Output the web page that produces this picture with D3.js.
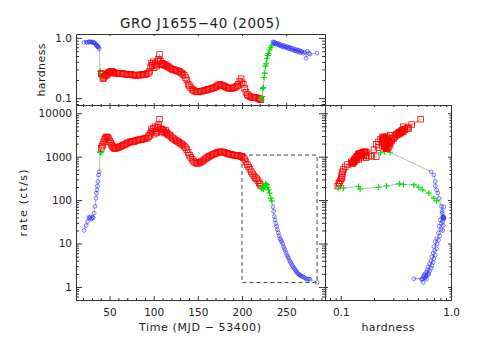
<!DOCTYPE html>
<html>
<head>
<meta charset="utf-8">
<script src="https://cdn.jsdelivr.net/npm/d3@7"></script>
<style>
body { margin: 0; background: #fff; }
text { font-family: "DejaVu Sans", sans-serif; fill: #222; }
</style>
</head>
<body>
<div id="chart"></div>
<script>
var width = 501,
    height = 354;

// time in MJD - 53400
var mjd = [
  21.0, 23.5, 25.0, 26.5, 27.5, 28.5, 29.5, 30.5, 31.5, 32.5, 33.5, 34.5, 35.0, 35.7, 36.3, 36.9, 37.5, 38.3,
  39.3, 39.8, 40.3,
  40.6, 41.5, 42.5, 43.5, 44.5, 45.5, 46.5, 47.5, 48.5, 49.5,
  50.5, 51.5, 52.5, 53.5, 54.5, 55.5, 56.5, 58.0, 59.5, 61.0,
  62.5, 64.0, 65.5, 67.0, 68.5, 70.0, 71.5, 73.0, 74.5, 76.0,
  77.5, 79.0, 80.5, 82.0, 83.5, 85.0, 86.5, 88.0, 89.5, 91.0,
  92.5, 94.0, 95.5, 96.5, 97.5, 98.5, 99.5, 100.5, 101.5, 102.5,
  103.5, 104.5, 105.5, 106.6, 107.5, 108.5, 109.5, 110.5, 111.5, 112.5,
  113.5, 114.5, 115.5, 116.5, 118.0, 119.5, 121.0, 122.5, 124.0, 125.5,
  127.0, 128.5, 130.0, 131.5, 133.0, 134.5, 136.0, 137.5, 139.0, 140.5,
  142.0, 143.5, 145.0, 146.5, 148.0, 149.5, 151.0, 152.5, 154.0, 155.5,
  157.0, 158.5, 160.0, 161.5, 163.0, 164.5, 166.0, 167.5, 169.0, 170.5,
  172.0, 173.5, 175.0, 176.5, 178.0, 179.5, 181.0, 182.5, 184.0, 185.5,
  187.0, 188.5, 190.0, 191.5, 193.0, 194.5, 196.0, 197.5, 199.0, 200.0,
  201.5, 203.0, 204.5, 206.0, 207.5, 209.0, 210.5, 212.0, 213.5, 215.0,
  216.5, 218.0, 219.5, 220.5, 221.4,
  222.0, 222.8, 223.5, 224.2, 225.0, 225.8, 226.5, 227.3, 228.2, 229.0, 230.0, 231.2, 232.5, 233.7,
  235.0, 235.8, 236.6, 237.4, 238.3, 239.3, 240.2, 241.2, 242.2, 243.1,
  244.0, 245.0, 246.0, 247.0, 248.0, 249.0, 250.0, 251.0, 252.0, 253.0,
  254.0, 255.0, 256.0, 257.0, 258.0, 259.0, 260.0, 261.0, 262.0, 263.0,
  264.0, 265.0, 266.0, 267.0, 268.0, 269.5, 271.0, 272.5, 274.0, 275.5,
  277.0, 285.0
];

// count rate (ct/s)
var rate = [
  20, 26, 32, 40, 38, 41, 37, 40, 39, 50, 72, 110, 145, 172, 210, 267, 380, 450,
  1260, 1300, 1235,
  1560, 1750, 1920, 2200, 2500, 2700, 2880, 2800, 2700, 2450,
  2250, 2050, 1850, 1720, 1620, 1560, 1540, 1580, 1620, 1680,
  1720, 1780, 1850, 1900, 1960, 2050, 2100, 2200, 2180, 2250,
  2220, 2300, 2400, 2380, 2450, 2500, 2480, 2550, 2620, 2700,
  2650, 2900, 3100, 3500, 4200, 3800, 4500, 3300, 4900, 3900,
  3600, 4800, 5500, 7300, 4400, 3700, 4300, 3800, 4100, 3500,
  4000, 3600, 3400, 3200, 3100, 2900, 2700, 2600, 2450, 2350,
  2250, 2150, 2050, 1950, 1850, 1750, 1620, 1450, 1250, 1080,
  960, 870, 790, 740, 710, 700, 715, 740, 770, 800,
  850, 890, 940, 980, 1020, 1060, 1100, 1130, 1170, 1200,
  1240, 1270, 1290, 1300, 1280, 1260, 1230, 1200, 1170, 1150,
  1130, 1110, 1090, 1080, 1060, 1050, 1070, 1030, 1000, 1020,
  950, 860, 760, 660, 580, 510, 450, 400, 360, 330,
  310, 280, 250, 235, 210,
  188, 190, 205, 180, 198, 212, 237, 230, 224, 198, 172, 145, 111, 96,
  70, 55, 42, 35, 29, 25, 21, 17.5, 15, 13,
  12, 11, 9.8, 8.5, 7.6, 6.9, 6.0, 5.4, 4.9, 4.5,
  4.0, 3.7, 3.4, 3.1, 2.9, 2.7, 2.5, 2.35, 2.2, 2.05,
  2.0, 1.9, 1.85, 1.8, 1.75, 1.7, 1.62, 1.55, 1.5, 1.52,
  1.5, 1.27
];

// hardness ratio
var hard = [
  0.84, 0.85, 0.84, 0.86, 0.86, 0.85, 0.86, 0.84, 0.85, 0.83, 0.82, 0.78, 0.76, 0.74, 0.72, 0.72, 0.70, 0.66,
  0.28, 0.25, 0.23,
  0.26, 0.25, 0.21, 0.22, 0.23, 0.24, 0.24, 0.25, 0.26, 0.27,
  0.27, 0.28, 0.28, 0.27, 0.27, 0.26, 0.26, 0.26, 0.26, 0.255,
  0.26, 0.255, 0.255, 0.25, 0.25, 0.25, 0.245, 0.245, 0.25, 0.245,
  0.24, 0.24, 0.24, 0.24, 0.245, 0.24, 0.245, 0.25, 0.245, 0.25,
  0.255, 0.26, 0.28, 0.33, 0.38, 0.35, 0.40, 0.32, 0.37, 0.36,
  0.34, 0.41, 0.44, 0.53, 0.41, 0.36, 0.38, 0.37, 0.36, 0.35,
  0.36, 0.34, 0.34, 0.33, 0.32, 0.31, 0.30, 0.30, 0.29, 0.29,
  0.28, 0.28, 0.27, 0.26, 0.25, 0.24, 0.22, 0.20, 0.17, 0.16,
  0.15, 0.14, 0.135, 0.13, 0.128, 0.127, 0.128, 0.13, 0.13, 0.132,
  0.133, 0.135, 0.137, 0.14, 0.14, 0.143, 0.145, 0.148, 0.15, 0.155,
  0.16, 0.165, 0.17, 0.165, 0.16, 0.16, 0.155, 0.15, 0.148, 0.146,
  0.145, 0.145, 0.148, 0.15, 0.155, 0.16, 0.17, 0.19, 0.21, 0.18,
  0.17, 0.145, 0.125, 0.115, 0.11, 0.106, 0.104, 0.103, 0.102, 0.103,
  0.101, 0.099, 0.097, 0.096, 0.094,
  0.095, 0.106, 0.145, 0.15, 0.22, 0.26, 0.34, 0.37, 0.46, 0.51, 0.55, 0.63, 0.70, 0.74,
  0.86, 0.83, 0.85, 0.80, 0.82, 0.78, 0.81, 0.77, 0.79, 0.74,
  0.77, 0.72, 0.75, 0.70, 0.74, 0.71, 0.69, 0.72, 0.67, 0.70,
  0.66, 0.69, 0.64, 0.67, 0.62, 0.66, 0.61, 0.64, 0.60, 0.63,
  0.58, 0.62, 0.57, 0.60, 0.59, 0.56, 0.58, 0.46, 0.60, 0.55,
  0.54, 0.56
];

// spectral state periods: each one starts at the given time
var stateStart = [0, 39.0, 40.5, 221.9, 234.5];
var stateName = ['hard', 'inter', 'soft', 'inter', 'hard'];

// tick labels
var timeTicks = [50, 100, 150, 200, 250];
var rateTicks = [1, 10, 100, 1000, 10000];
var hardTicks = [0.1, 1.0];

// dashed box drawn round the decay
var boxTime = [200, 285];
var boxRate = [1.27, 1090];

function stateOf(t) {
  var s = stateName[0];
  for (var k = 0; k < stateStart.length; k++) {
    if (t >= stateStart[k]) s = stateName[k];
  }
  return s;
}

var points = mjd.map(function (t, i) {
  return {t: t, r: rate[i], h: hard[i], s: stateOf(t)};
});

var svg = d3.select('#chart').append('svg')
    .attr('width', width)
    .attr('height', height)
    .style('background', '#fff');

var x = d3.scaleLinear().domain([12, 294]).range([76, 325]);
var yHard = d3.scaleLog().domain([0.077, 1.16]).range([105, 34]);
var yRate = d3.scaleLog().domain([0.5, 15500]).range([300, 105]);
var xHard = d3.scaleLog().domain([0.072, 1.0]).range([325, 451]);

function logMinor(dom) {
  var out = [];
  for (var e = -3; e < 6; e++) {
    for (var d = 2; d < 10; d++) {
      var v = d * Math.pow(10, e);
      if (v >= dom[0] && v <= dom[1]) out.push(v);
    }
  }
  return out;
}
var timeMinor = d3.range(20, 295, 10).filter(function (v) { return v % 50 != 0; });

var fmt1 = d3.format('.1f');

function axis(orient, scale, at, major, minor, len, labels, pad) {
  var gen = {bottom: d3.axisBottom, top: d3.axisTop, left: d3.axisLeft, right: d3.axisRight}[orient];
  var tr = (orient == 'bottom' || orient == 'top') ? 'translate(0,' + at + ')' : 'translate(' + at + ',0)';
  var g = svg.append('g').attr('transform', tr)
    .call(gen(scale).tickValues(major).tickSizeInner(-len).tickSizeOuter(0)
      .tickPadding(pad || 4).tickFormat(labels || function () { return ''; }));
  g.select('.domain').attr('stroke', '#333');
  g.selectAll('.tick line').attr('stroke', '#333');
  g.selectAll('text').attr('font-family', '"DejaVu Sans", sans-serif')
    .attr('font-size', 10.5).attr('fill', '#222');
  var g2 = svg.append('g').attr('transform', tr)
    .call(gen(scale).tickValues(minor).tickSizeInner(-len / 2).tickSizeOuter(0).tickFormat(''));
  g2.select('.domain').remove();
  g2.selectAll('.tick line').attr('stroke', '#333');
}

// top panel: hardness vs time
axis('bottom', x, 105, timeTicks, timeMinor, 2);
axis('top', x, 34, timeTicks, timeMinor, 2);
axis('left', yHard, 76, hardTicks, logMinor(yHard.domain()), 6, fmt1);
axis('right', yHard, 325, hardTicks, logMinor(yHard.domain()), 6);

// bottom-left panel: rate vs time
axis('bottom', x, 300, timeTicks, timeMinor, 4, d3.format('d'), 9);
axis('top', x, 105, timeTicks, timeMinor, 4);
axis('left', yRate, 76, rateTicks, logMinor(yRate.domain()), 6, d3.format('d'));
axis('right', yRate, 325, rateTicks, logMinor(yRate.domain()), 6);

// right panel: rate vs hardness
axis('bottom', xHard, 300, hardTicks, logMinor(xHard.domain()), 4, fmt1, 9);
axis('top', xHard, 105, hardTicks, logMinor(xHard.domain()), 4);
axis('left', yRate, 325, rateTicks, logMinor(yRate.domain()), 3);
axis('right', yRate, 451, rateTicks, logMinor(yRate.domain()), 3);

// zoom box
svg.append('rect')
    .attr('x', x(boxTime[0]))
    .attr('y', yRate(boxRate[1]))
    .attr('width', x(boxTime[1]) - x(boxTime[0]))
    .attr('height', yRate(boxRate[0]) - yRate(boxRate[1]))
    .attr('fill', 'none')
    .attr('stroke', '#444')
    .attr('stroke-width', 1)
    .attr('stroke-dasharray', '4,3');

var colors = {hard: '#2b2bff', inter: '#00e000', soft: '#ff0000'};

function panel(fx, fy) {
  svg.append('path')
    .datum(points)
    .attr('d', d3.line().x(fx).y(fy))
    .attr('fill', 'none')
    .attr('stroke', '#aaa')
    .attr('stroke-width', 0.8);

  var g = svg.append('g');
  points.forEach(function (p) {
    var px = fx(p), py = fy(p);
    if (p.s == 'soft') {
      g.append('rect').attr('x', px - 2.8).attr('y', py - 2.8)
        .attr('width', 5.6).attr('height', 5.6)
        .attr('fill', 'none').attr('stroke', colors.soft).attr('stroke-width', 0.8);
    } else if (p.s == 'inter') {
      g.append('path').attr('d', 'M' + (px - 3) + ',' + py + 'H' + (px + 3) + 'M' + px + ',' + (py - 3) + 'V' + (py + 3))
        .attr('stroke', colors.inter).attr('stroke-width', 1.1);
    } else {
      g.append('circle').attr('cx', px).attr('cy', py).attr('r', 1.9)
        .attr('fill', 'none').attr('stroke', colors.hard).attr('stroke-width', 0.7)
        .attr('stroke-opacity', 0.85);
    }
  });
}

panel(function (p) { return x(p.t); }, function (p) { return yHard(p.h); });
panel(function (p) { return x(p.t); }, function (p) { return yRate(p.r); });
panel(function (p) { return xHard(p.h); }, function (p) { return yRate(p.r); });

// titles
svg.append('text')
    .attr('x', 200).attr('y', 28)
    .attr('text-anchor', 'middle')
    .attr('font-size', 13.5)
    .attr('textLength', 160).attr('lengthAdjust', 'spacing')
    .text('GRO J1655\u221240 (2005)');

svg.append('text')
    .attr('transform', 'translate(45,70) rotate(-90)')
    .attr('text-anchor', 'middle')
    .attr('font-size', 11)
    .attr('textLength', 53).attr('lengthAdjust', 'spacing')
    .text('hardness');

svg.append('text')
    .attr('transform', 'translate(27,203) rotate(-90)')
    .attr('text-anchor', 'middle')
    .attr('font-size', 11)
    .attr('textLength', 67).attr('lengthAdjust', 'spacing')
    .text('rate (ct/s)');

svg.append('text')
    .attr('x', 200).attr('y', 331)
    .attr('text-anchor', 'middle')
    .attr('font-size', 11)
    .attr('textLength', 122).attr('lengthAdjust', 'spacing')
    .text('Time (MJD \u2212 53400)');

svg.append('text')
    .attr('x', 388).attr('y', 331)
    .attr('text-anchor', 'middle')
    .attr('font-size', 11)
    .attr('textLength', 53).attr('lengthAdjust', 'spacing')
    .text('hardness');
</script>
</body>
</html>
